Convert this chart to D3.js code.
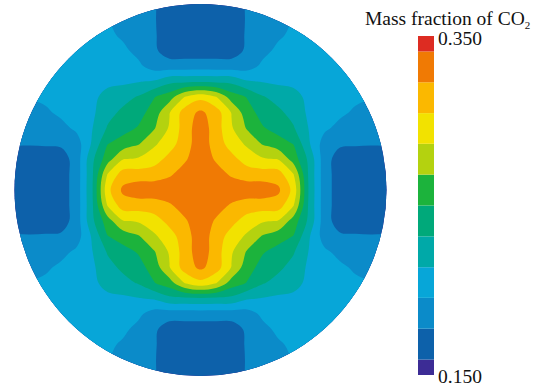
<!DOCTYPE html>
<html>
<head>
	<meta charset="utf-8">
	<script type="text/javascript" src="https://cdn.jsdelivr.net/npm/d3@7"></script>
	<style>
		body { margin: 0; background: #fff; }
		svg { display: block; }
	</style>
</head>
<body>
	<script type="text/javascript">

		var massFraction = [
			[.2009,.2009,.2009,.2009,.2009,.1991,.1955,.1891,.1845,.1791,.1655,.1636,.1636,.1636,.1655,.1791,.1845,.1891,.1955,.1991,.2009,.2009,.2009,.2009,.2009],
			[.2009,.2009,.2009,.2009,.2009,.1991,.1964,.1900,.1855,.1791,.1655,.1636,.1636,.1636,.1655,.1791,.1855,.1900,.1964,.1991,.2009,.2009,.2009,.2009,.2009],
			[.2009,.2009,.2027,.2027,.2027,.2018,.1991,.1927,.1873,.1796,.1664,.1645,.1645,.1645,.1664,.1796,.1873,.1927,.1991,.2018,.2027,.2027,.2027,.2009,.2009],
			[.2009,.2009,.2027,.2036,.2036,.2045,.2036,.1991,.1902,.1805,.1682,.1682,.1682,.1682,.1682,.1805,.1902,.1991,.2036,.2045,.2036,.2036,.2027,.2009,.2009],
			[.2009,.2009,.2027,.2036,.2055,.2064,.2064,.2045,.1991,.1873,.1855,.1853,.1853,.1853,.1855,.1873,.1991,.2045,.2064,.2064,.2055,.2036,.2027,.2009,.2009],
			[.1991,.1991,.2018,.2045,.2064,.2091,.2091,.2100,.2127,.2155,.2273,.2282,.2291,.2282,.2273,.2155,.2127,.2100,.2091,.2091,.2064,.2045,.2018,.1991,.1991],
			[.1955,.1964,.1991,.2036,.2064,.2091,.2198,.2258,.2333,.2491,.2600,.2873,.2991,.2873,.2600,.2491,.2333,.2258,.2198,.2091,.2064,.2036,.1991,.1964,.1955],
			[.1891,.1900,.1927,.1991,.2045,.2100,.2258,.2355,.2435,.2575,.2855,.3136,.3264,.3136,.2855,.2575,.2435,.2355,.2258,.2100,.2045,.1991,.1927,.1900,.1891],
			[.1845,.1855,.1873,.1902,.1991,.2127,.2333,.2435,.2516,.2664,.2885,.3136,.3336,.3136,.2885,.2664,.2516,.2435,.2333,.2127,.1991,.1902,.1873,.1855,.1845],
			[.1791,.1791,.1796,.1805,.1873,.2155,.2491,.2575,.2664,.2831,.2965,.3145,.3336,.3145,.2965,.2831,.2664,.2575,.2491,.2155,.1873,.1805,.1796,.1791,.1791],
			[.1655,.1655,.1664,.1682,.1855,.2273,.2600,.2855,.2885,.2965,.3102,.3200,.3364,.3200,.3102,.2965,.2885,.2855,.2600,.2273,.1855,.1682,.1664,.1655,.1655],
			[.1636,.1636,.1645,.1682,.1853,.2282,.2873,.3136,.3136,.3145,.3200,.3318,.3373,.3318,.3200,.3145,.3136,.3136,.2873,.2282,.1853,.1682,.1645,.1636,.1636],
			[.1636,.1636,.1645,.1682,.1853,.2291,.2991,.3264,.3336,.3336,.3364,.3373,.3382,.3373,.3364,.3336,.3336,.3264,.2991,.2291,.1853,.1682,.1645,.1636,.1636],
			[.1636,.1636,.1645,.1682,.1853,.2282,.2873,.3136,.3136,.3145,.3200,.3318,.3373,.3318,.3200,.3145,.3136,.3136,.2873,.2282,.1853,.1682,.1645,.1636,.1636],
			[.1655,.1655,.1664,.1682,.1855,.2273,.2600,.2855,.2885,.2965,.3102,.3200,.3364,.3200,.3102,.2965,.2885,.2855,.2600,.2273,.1855,.1682,.1664,.1655,.1655],
			[.1791,.1791,.1796,.1805,.1873,.2155,.2491,.2575,.2664,.2831,.2965,.3145,.3336,.3145,.2965,.2831,.2664,.2575,.2491,.2155,.1873,.1805,.1796,.1791,.1791],
			[.1845,.1855,.1873,.1902,.1991,.2127,.2333,.2435,.2516,.2664,.2885,.3136,.3336,.3136,.2885,.2664,.2516,.2435,.2333,.2127,.1991,.1902,.1873,.1855,.1845],
			[.1891,.1900,.1927,.1991,.2045,.2100,.2258,.2355,.2435,.2575,.2855,.3136,.3264,.3136,.2855,.2575,.2435,.2355,.2258,.2100,.2045,.1991,.1927,.1900,.1891],
			[.1955,.1964,.1991,.2036,.2064,.2091,.2198,.2258,.2333,.2491,.2600,.2873,.2991,.2873,.2600,.2491,.2333,.2258,.2198,.2091,.2064,.2036,.1991,.1964,.1955],
			[.1991,.1991,.2018,.2045,.2064,.2091,.2091,.2100,.2127,.2155,.2273,.2282,.2291,.2282,.2273,.2155,.2127,.2100,.2091,.2091,.2064,.2045,.2018,.1991,.1991],
			[.2009,.2009,.2027,.2036,.2055,.2064,.2064,.2045,.1991,.1873,.1855,.1853,.1853,.1853,.1855,.1873,.1991,.2045,.2064,.2064,.2055,.2036,.2027,.2009,.2009],
			[.2009,.2009,.2027,.2036,.2036,.2045,.2036,.1991,.1902,.1805,.1682,.1682,.1682,.1682,.1682,.1805,.1902,.1991,.2036,.2045,.2036,.2036,.2027,.2009,.2009],
			[.2009,.2009,.2027,.2027,.2027,.2018,.1991,.1927,.1873,.1796,.1664,.1645,.1645,.1645,.1664,.1796,.1873,.1927,.1991,.2018,.2027,.2027,.2027,.2009,.2009],
			[.2009,.2009,.2009,.2009,.2009,.1991,.1964,.1900,.1855,.1791,.1655,.1636,.1636,.1636,.1655,.1791,.1855,.1900,.1964,.1991,.2009,.2009,.2009,.2009,.2009],
			[.2009,.2009,.2009,.2009,.2009,.1991,.1955,.1891,.1845,.1791,.1655,.1636,.1636,.1636,.1655,.1791,.1845,.1891,.1955,.1991,.2009,.2009,.2009,.2009,.2009]
		];

		// lower bound of each colour band
		var levels = [0.1500, 0.1591, 0.1773, 0.1955, 0.2136, 0.2318, 0.2500, 0.2682, 0.2864, 0.3045, 0.3227, 0.3409];

		// band colours, lowest to highest
		var bandColors = ['#3c2c95', '#0d61aa', '#0b8bc9', '#07a6d8', '#00a9a8', '#00a97a', '#1cb33c',
			'#b4d20f', '#f2e200', '#fbb800', '#f07a04', '#dd2c22'];

		var legendTicks = [0.150, 0.350];
		var legendTitle = 'Mass fraction of CO';

		// canvas params
		var width = 551, height = 385;
		var nx = massFraction[0].length, ny = massFraction.length;
		var disk = {cx: 200.5, cy: 190, r: 186};

		var svg = d3.select('body')
			.append('svg')
			.attr('width', width)
			.attr('height', height);

		// grid sample i sits at contour coordinate i + 0.5
		var xScale = d3.scaleLinear()
			.domain([0.5, nx - 0.5])
			.range([disk.cx - disk.r, disk.cx + disk.r]);

		var yScale = d3.scaleLinear()
			.domain([0.5, ny - 0.5])
			.range([disk.cy - disk.r, disk.cy + disk.r]);

		var contours = d3.contours()
			.size([nx, ny])
			.thresholds(levels)(d3.merge(massFraction));

		var ringLine = d3.line()
			.x(function(p) { return xScale(p[0]); })
			.y(function(p) { return yScale(p[1]); })
			.curve(d3.curveCatmullRomClosed.alpha(0.5));

		function contourPath(c) {
			return c.coordinates.map(function(polygon) {
				return polygon.map(function(ring) {
					return ringLine(ring.slice(0, -1));
				}).join('');
			}).join('');
		}

		svg.append('clipPath')
			.attr('id', 'disk')
			.append('circle')
			.attr('cx', disk.cx)
			.attr('cy', disk.cy)
			.attr('r', disk.r);

		var field = svg.append('g')
			.attr('clip-path', 'url(#disk)');

		field.append('circle')
			.attr('cx', disk.cx)
			.attr('cy', disk.cy)
			.attr('r', disk.r)
			.attr('fill', bandColors[0]);

		field.selectAll('path')
			.data(contours)
			.enter()
			.append('path')
			.attr('d', contourPath)
			.attr('fill-rule', 'evenodd')
			.attr('fill', function(d, i) { return bandColors[i]; });

		// colour bar
		var barScale = d3.scaleLinear()
			.domain([0.15, 0.35])
			.range([375, 36]);

		var legend = svg.append('g');

		legend.selectAll('rect')
			.data(levels)
			.enter()
			.append('rect')
			.attr('x', 418)
			.attr('width', 16)
			.attr('y', function(d, i) {
				var top = i < levels.length - 1 ? levels[i + 1] : 0.35;
				return barScale(Math.min(top, 0.35));
			})
			.attr('height', function(d, i) {
				var top = i < levels.length - 1 ? levels[i + 1] : 0.35;
				return barScale(Math.max(d, 0.15)) - barScale(Math.min(top, 0.35));
			})
			.attr('fill', function(d, i) { return bandColors[i]; });

		legend.selectAll('text.tick')
			.data(legendTicks)
			.enter()
			.append('text')
			.attr('class', 'tick')
			.attr('x', 438)
			.attr('y', function(d) { return barScale(d) + (d > 0.2 ? 9 : 7.5); })
			.attr('font-family', 'Liberation Serif, serif')
			.attr('font-size', 19.5)
			.attr('fill', '#111')
			.text(function(d) { return d3.format('.3f')(d); });

		var title = legend.append('text')
			.attr('x', 365)
			.attr('y', 25)
			.attr('font-family', 'Liberation Serif, serif')
			.attr('font-size', 19.5)
			.attr('fill', '#111')
			.text(legendTitle);

		title.append('tspan')
			.attr('dy', 4)
			.attr('font-size', 11)
			.text('2');

	</script>
</body>
</html>
